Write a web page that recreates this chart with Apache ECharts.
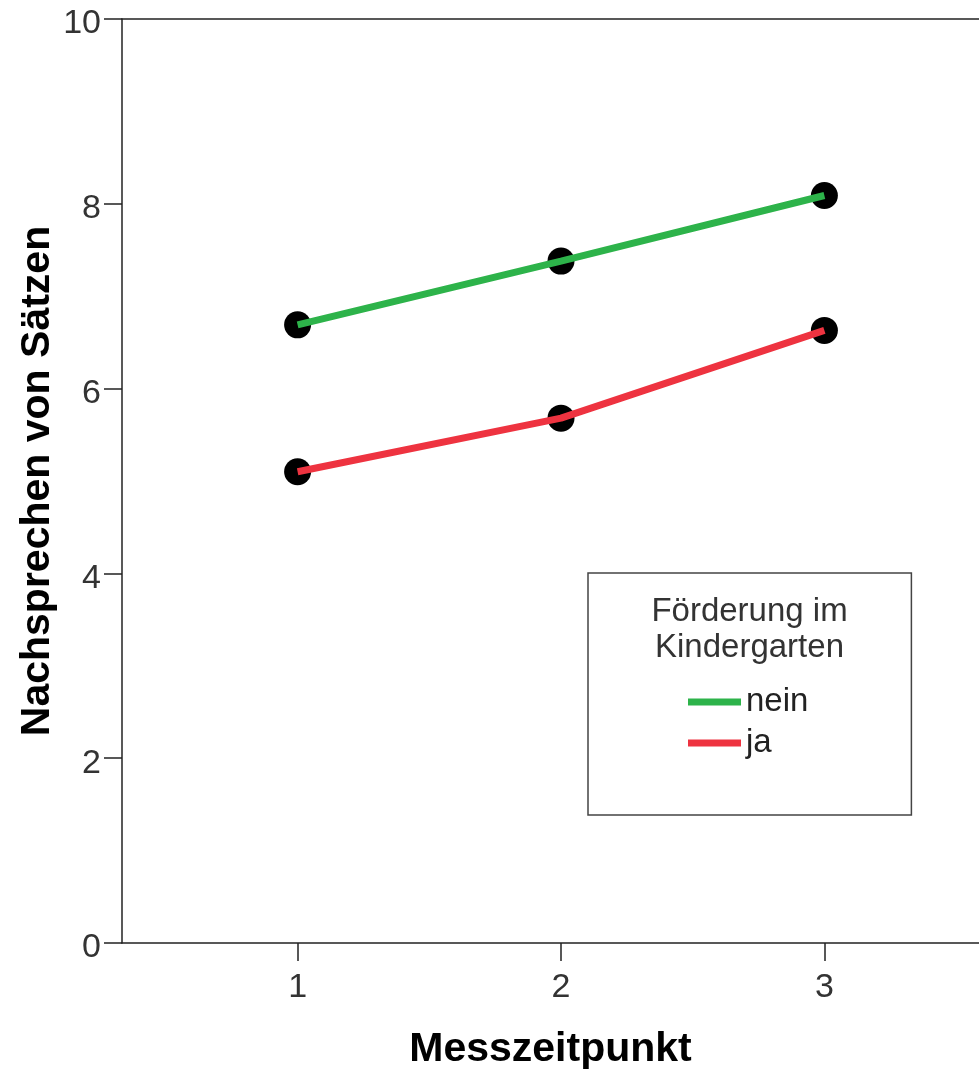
<!DOCTYPE html>
<html>
<head>
<meta charset="utf-8">
<script src="https://cdn.jsdelivr.net/npm/echarts@6/dist/echarts.min.js"></script>
<style>
html,body{margin:0;padding:0;background:#fff;}
#chart{width:979px;height:1072px;}
</style>
</head>
<body>
<div id="chart"></div>
<script>
var timePoints = [1, 2, 3];
var neinValues = [6.69, 7.38, 8.09];
var jaValues = [5.10, 5.68, 6.63];
var yTicks = [0, 2, 4, 6, 8, 10];
var seriesNames = ['nein', 'ja'];
var legendTitle = 'Förderung im\nKindergarten';
var xTitle = 'Messzeitpunkt';
var yTitle = 'Nachsprechen von Sätzen';

function pairs(vals) { return timePoints.map(function (t, i) { return [t, vals[i]]; }); }

var FONT = '"Liberation Sans", Arial, sans-serif';
var X_MIN = 1 / 3, X_MAX = 3.587;
var chart = echarts.init(document.getElementById('chart'), null, {renderer: 'canvas'});
chart.setOption({
  animation: false,
  backgroundColor: '#fff',
  grid: {left: 122, top: 19, right: 0, bottom: 129, show: false, containLabel: false, outerBoundsMode: 'none'},
  xAxis: [{
    type: 'value', min: X_MIN, max: X_MAX,
    name: xTitle, nameLocation: 'middle', nameGap: 86,
    nameTextStyle: {fontFamily: FONT, fontWeight: 'bold', fontSize: 41, color: '#000'},
    axisLine: {show: true, lineStyle: {color: '#222', width: 1.5}},
    axisTick: {show: true, length: 18, customValues: timePoints, lineStyle: {color: '#222', width: 1.5}},
    axisLabel: {customValues: timePoints, margin: 28, fontFamily: FONT, fontSize: 34, color: '#333'},
    splitLine: {show: false}
  }, {
    type: 'value', position: 'top', min: X_MIN, max: X_MAX,
    axisLine: {show: true, lineStyle: {color: '#222', width: 1.5}},
    axisTick: {show: false}, axisLabel: {show: false}, splitLine: {show: false}
  }],
  yAxis: {
    type: 'value', min: 0, max: 10, interval: 2,
    name: yTitle, nameLocation: 'middle', nameGap: 64, nameMoveOverlap: false,
    nameTextStyle: {fontFamily: FONT, fontWeight: 'bold', fontSize: 41, color: '#000'},
    axisLine: {show: true, lineStyle: {color: '#222', width: 1.5}},
    axisTick: {show: true, length: 18, lineStyle: {color: '#222', width: 1.5}},
    axisLabel: {margin: 21, fontFamily: FONT, fontSize: 34, color: '#333',
      formatter: function (v) { return yTicks.indexOf(v) >= 0 ? '{d|' + v + '}' : ''; },
      rich: {d: {fontFamily: FONT, fontSize: 34, color: '#333', padding: [10, 0, 0, 0]}}},
    splitLine: {show: false}
  },
  legend: {
    orient: 'vertical', left: 588, top: 573,
    padding: [109, 103, 52, 100],
    itemGap: 1, itemWidth: 53, itemHeight: 7, icon: 'rect',
    borderColor: '#444', borderWidth: 1.5, backgroundColor: '#fff',
    data: seriesNames,
    textStyle: {fontFamily: FONT, fontSize: 33, color: '#222', lineHeight: 40}
  },
  graphic: [{
    type: 'text', z: 100,
    style: {text: legendTitle, x: 0, y: 0, align: 'center', fontFamily: FONT, fontSize: 33, lineHeight: 36, fill: '#333'},
    position: [749.5, 594]
  }],
  series: [
    {name: 'nein', type: 'line', data: pairs(neinValues), showSymbol: false, symbol: 'none', z: 3,
      lineStyle: {color: '#2db34a', width: 7}, itemStyle: {color: '#2db34a'}},
    {name: 'ja', type: 'line', data: pairs(jaValues), showSymbol: false, symbol: 'none', z: 3,
      lineStyle: {color: '#ee3340', width: 7}, itemStyle: {color: '#ee3340'}},
    {name: 'nein-pts', type: 'scatter', data: pairs(neinValues), symbolSize: 27, z: 2,
      itemStyle: {color: '#000', opacity: 1}},
    {name: 'ja-pts', type: 'scatter', data: pairs(jaValues), symbolSize: 27, z: 2,
      itemStyle: {color: '#000', opacity: 1}}
  ]
});
</script>
</body>
</html>
